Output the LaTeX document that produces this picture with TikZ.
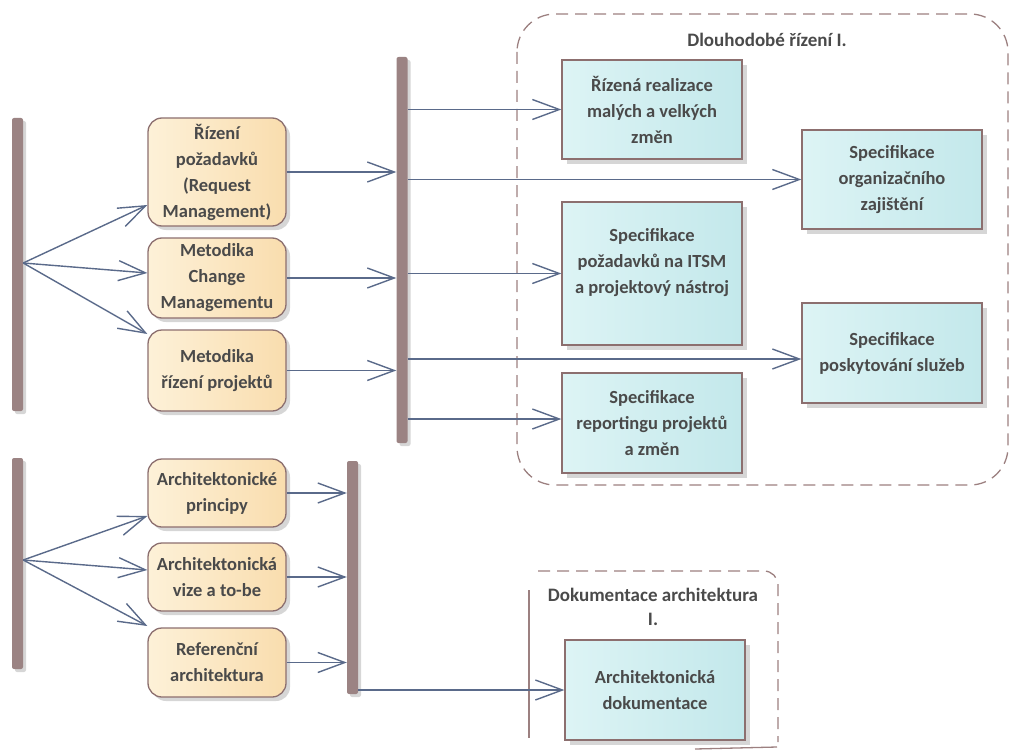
\documentclass[tikz,border=0pt]{standalone}
\usepackage{fontspec}
\setmainfont{Carlito}
\usetikzlibrary{arrows.meta,shadows}

\definecolor{barfill}{HTML}{9B8383}
\definecolor{edge}{HTML}{8C6F6F}
\definecolor{flowline}{HTML}{5A6A8A}
\definecolor{txt}{HTML}{4A4A4A}
\definecolor{orangeL}{HTML}{FDF1D8}
\definecolor{orangeR}{HTML}{F9DDAE}
\definecolor{tealL}{HTML}{DDF4F5}
\definecolor{tealR}{HTML}{C3E8EB}
\definecolor{groupline}{HTML}{9C8080}

\begin{document}
\begin{tikzpicture}[x=1pt, y=-1pt,
        flow/.style={draw=flowline, line width=1.4pt, -{Straight Barb[length=27pt, width=20pt]}},
        bar/.style={fill=barfill, rounded corners=2pt, minimum width=11pt, inner sep=0pt,
            drop shadow={shadow xshift=3pt, shadow yshift=-3pt, fill=black!16, opacity=1}},
        act/.style={draw=edge, line width=1.3pt, rounded corners=14pt, left color=orangeL, right color=orangeR,
            minimum width=138pt, inner sep=1pt, align=center, text=txt, font=\bfseries\fontsize{18.5}{26}\selectfont,
            execute at begin node={\rule{0pt}{23pt}},
            drop shadow={shadow xshift=4pt, shadow yshift=-4pt, fill=black!16, opacity=1}},
        spec/.style={draw=edge, line width=1.3pt, left color=tealL, right color=tealR,
            minimum width=180pt, inner sep=1pt, align=center, text=txt, font=\bfseries\fontsize{18.5}{26}\selectfont,
            execute at begin node={\rule{0pt}{21pt}},
            drop shadow={shadow xshift=5pt, shadow yshift=-5pt, fill=black!16, opacity=1}},
        grouptitle/.style={align=center, text=txt, font=\bfseries\fontsize{19}{24}\selectfont},
        groupdash/.style={draw=groupline, line width=1.3pt, dash pattern=on 12pt off 7pt},
        groupsolid/.style={draw=groupline, line width=1.3pt}]
        \useasboundingbox (0,0) rectangle (1011,749);

        % Groups
        \draw[groupdash, rounded corners=38pt] (517,14) rectangle (1008,485);
        \node[grouptitle] (longterm) at (767,40) {Dlouhodobé řízení I.};
        \draw[groupdash, rounded corners=14pt] (538,571) -- (778,571) -- (778,742);
        \draw[groupsolid] (529,590) -- (529,738);
        \draw[groupsolid] (695,749) -- (777,747);
        \node[grouptitle] (archgroup) at (653,607) {Dokumentace architektura\\I.};

        % Bars
        \node[bar, minimum height=293pt] (fork1) at (17.5,264.5) {};
        \node[bar, minimum height=386pt] (join1) at (402,250) {};
        \node[bar, minimum height=211pt] (fork2) at (17.5,563.5) {};
        \node[bar, minimum height=233pt] (join2) at (352.5,577.5) {};

        % Activities
        \node[act, minimum height=108pt] (req) at (217,172) {Řízení\\požadavků\\(Request\\Management)};
        \node[act, minimum height=80pt] (chg) at (217,278) {Metodika\\Change\\Managementu};
        \node[act, minimum height=81pt] (prj) at (217,370.5) {Metodika\\řízení projektů};
        \node[act, minimum height=68pt] (arp) at (217,493) {Architektonické\\principy};
        \node[act, minimum height=68pt] (viz) at (217,577) {Architektonická\\vize a to-be};
        \node[act, minimum height=69pt] (ref) at (217,662.5) {Referenční\\architektura};

        % Specifications
        \node[spec, minimum height=99pt] (rea) at (652,109.5) {Řízená realizace\\malých a velkých\\změn};
        \node[spec, minimum height=99pt] (org) at (892,179.5) {Specifikace\\organizačního\\zajištění};
        \node[spec, minimum height=143pt] (itsm) at (652,273.5) {Specifikace\\požadavků na ITSM\\a projektový nástroj\\\mbox{}};
        \node[spec, minimum height=100pt] (svc) at (892,353) {Specifikace\\poskytování služeb};
        \node[spec, minimum height=100pt] (rep) at (652,423) {Specifikace\\reportingu projektů\\a změn};
        \node[spec, minimum height=100pt] (doc) at (655,690) {Architektonická\\dokumentace};

        % Fork points
        \coordinate (f1) at (fork1.east |- 0,263);
        \coordinate (f2) at (fork2.east |- 0,560);

        % Upper flows
        \draw[flow] (f1) -- ([yshift=-33pt]req.west);
        \draw[flow] (f1) -- ([yshift=5pt]chg.west);
        \draw[flow] (f1) -- ([yshift=36.5pt]prj.west);
        \draw[flow] (req.east) -- (req.east -| join1.west);
        \draw[flow] (chg.east) -- (chg.east -| join1.west);
        \draw[flow] (prj.east) -- (prj.east -| join1.west);
        \draw[flow] (join1.east |- rea.west) -- (rea.west);
        \draw[flow] (join1.east |- org.west) -- (org.west);
        \draw[flow] (join1.east |- itsm.west) -- (itsm.west);
        \draw[flow] (join1.east |- 0,359) -- ([yshift=-6pt]svc.west);
        \draw[flow] (join1.east |- 0,419) -- ([yshift=4pt]rep.west);

        % Lower flows
        \draw[flow] (f2) -- ([yshift=-23pt]arp.west);
        \draw[flow] (f2) -- ([yshift=7pt]viz.west);
        \draw[flow] (f2) -- ([yshift=36.5pt]ref.west);
        \draw[flow] (arp.east) -- (arp.east -| join2.west);
        \draw[flow] (viz.east) -- (viz.east -| join2.west);
        \draw[flow] (ref.east) -- (ref.east -| join2.west);
        \draw[flow] (join2.east |- doc.west) -- (doc.west);
    \end{tikzpicture}
\end{document}
